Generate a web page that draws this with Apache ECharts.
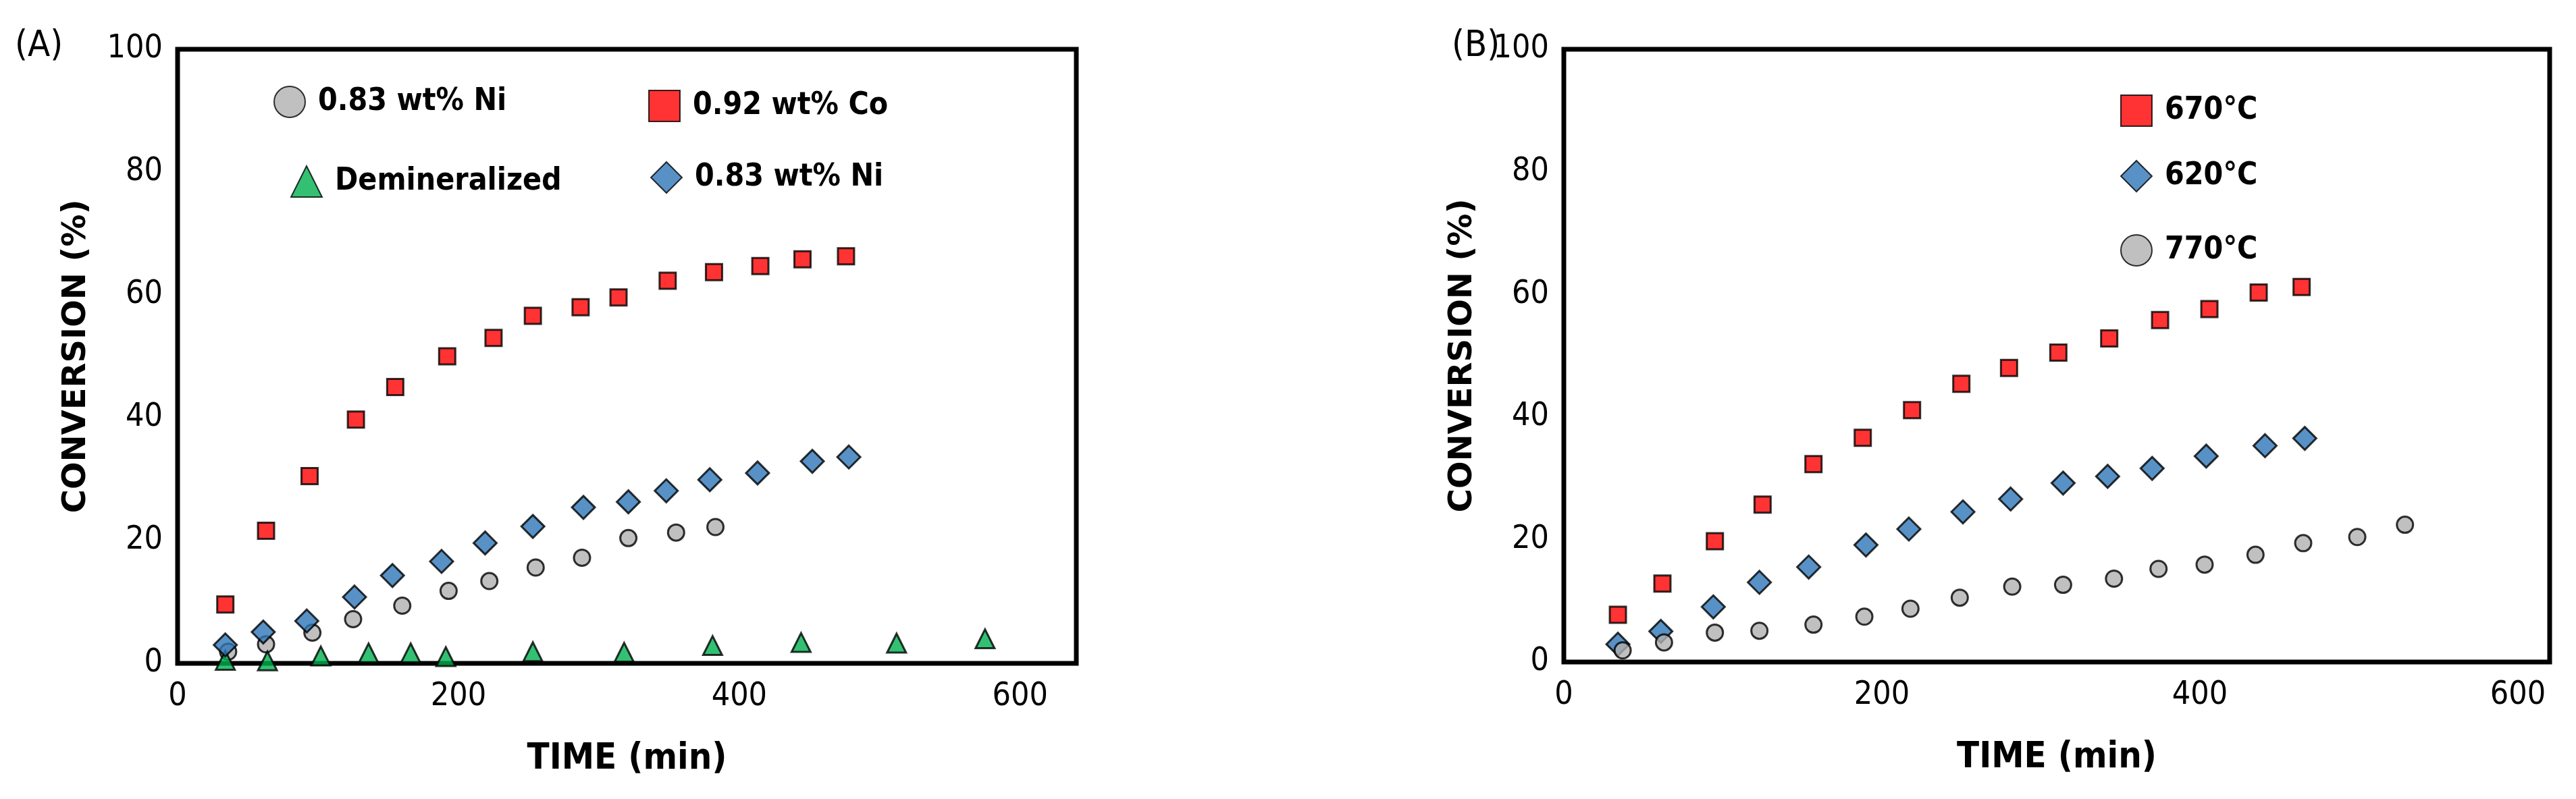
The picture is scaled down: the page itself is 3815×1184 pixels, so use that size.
<!DOCTYPE html>
<html><head><meta charset="utf-8">
<script src="https://cdn.jsdelivr.net/npm/echarts@6/dist/echarts.min.js"></script>
<style>html,body{margin:0;background:#fff}#c{width:3815px;height:1184px}</style>
</head><body><div id="c"></div>
<script>
// Panel A
const aCoX=[34,63,94,127,155,192,225,253,287,314,349,382,415,445,476];
const aCoY=[9.6,21.6,30.5,39.7,45,50,53,56.6,58,59.6,62.3,63.7,64.7,65.8,66.3];
const aNiDX=[34,61,92,126,153,188,219,253,289,321,348,379,413,452,478];
const aNiDY=[3.0,5.1,6.9,10.8,14.3,16.6,19.6,22.3,25.4,26.3,28.1,29.9,31.0,32.9,33.6];
const aNiCX=[36,63,96,125,160,193,222,255,288,321,355,383];
const aNiCY=[1.9,3.1,5.0,7.2,9.4,11.8,13.4,15.6,17.2,20.4,21.3,22.2];
const aDemX=[34,64,102,136,166,191,253,318,381,444,512,575];
const aDemY=[0.5,0.4,1.2,1.7,1.7,1.1,1.9,1.8,2.9,3.4,3.3,4.0];
// Panel B
const b670X=[34,62,95,125,157,188,219,250,280,311,343,375,406,437,464];
const b670Y=[7.7,12.8,19.7,25.7,32.3,36.6,41.1,45.4,48.0,50.5,52.8,55.8,57.6,60.3,61.2];
const b620X=[34,61,94,123,154,190,217,251,281,314,342,370,404,441,466];
const b620Y=[2.9,5.0,9.0,13.0,15.5,19.1,21.7,24.5,26.6,29.2,30.3,31.6,33.6,35.3,36.5];
const b770X=[37,63,95,123,157,189,218,249,282,314,346,374,403,435,465,499,529];
const b770Y=[1.9,3.2,4.8,5.1,6.1,7.4,8.7,10.5,12.3,12.6,13.6,15.2,15.9,17.5,19.4,20.4,22.4];
const xTicks=[0,200,400,600];
const yTicks=[0,20,40,60,80,100];

const zip=(a,b)=>a.map((v,i)=>[v,b[i]]);
const FONT='"DejaVu Sans Condensed","Liberation Sans",sans-serif';
const RED='#ff0000',BLUE='#2e75b6',GRAY='#b2b0b0',GREEN='#00b050';
const sty=c=>({color:c,borderColor:'#000',borderWidth:3});

function xa(i,max){return {type:'value',gridIndex:i,min:0,max:max,interval:200,
  axisLine:{show:false},axisTick:{show:false},splitLine:{show:false},
  axisLabel:{fontSize:48,fontFamily:FONT,color:'#000',margin:26,formatter:v=>xTicks.includes(v)?v:''},
  name:'TIME (min)',nameLocation:'middle',nameGap:115,
  nameTextStyle:{fontSize:54,fontWeight:'bold',fontFamily:FONT,color:'#000'}};}
function ya(i){return {type:'value',gridIndex:i,min:0,max:100,interval:20,
  axisLine:{show:false},axisTick:{show:false},splitLine:{show:false},
  axisLabel:{fontSize:48,fontFamily:FONT,color:'#000',margin:22,formatter:v=>yTicks.includes(v)?v:''},
  name:'CONVERSION (%)',nameLocation:'middle',nameGap:125,
  nameTextStyle:{fontSize:48,fontWeight:'bold',fontFamily:'"DejaVu Sans",sans-serif',color:'#000'}};}
function sc(name,i,data,sym,size,c){return {name:name,type:'scatter',xAxisIndex:i,yAxisIndex:i,
  data:data,symbol:sym,symbolSize:size,itemStyle:sty(c)};}
function lg(name,left,top){return {data:[name],left:left,top:top,itemWidth:46,itemHeight:46,itemGap:0,
  textStyle:{fontSize:46,fontWeight:'bold',fontFamily:FONT,color:'#000',padding:[0,0,0,14]},selectedMode:false};}

const chart=echarts.init(document.getElementById('c'));
chart.setOption({
  backgroundColor:'#fff',animation:false,
  grid:[{left:263,top:73,width:1331,height:910,show:true,borderColor:'#000',borderWidth:7},
        {left:2316,top:73,width:1460,height:908,show:true,borderColor:'#000',borderWidth:7}],
  xAxis:[xa(0,640),xa(1,620)],
  yAxis:[ya(0),ya(1)],
  legend:[lg('0.83 wt% Ni',400,122),lg('0.92 wt% Co',955,128),lg('Demineralized',425,240),lg('0.83 wt% Ni ',958,234),
          lg('670°C',3135,135),lg('620°C',3135,232),lg('770°C',3135,342)],
  graphic:[{type:'text',left:22,top:42,style:{text:'(A)',fontSize:54,fontFamily:FONT,fill:'#000'}},
           {type:'text',left:2150,top:42,style:{text:'(B)',fontSize:54,fontFamily:FONT,fill:'#000'}}],
  series:[
    sc('0.83 wt% Ni',0,zip(aNiCX,aNiCY),'circle',24,GRAY),
    sc('0.92 wt% Co',0,zip(aCoX,aCoY),'rect',24,RED),
    sc('Demineralized',0,zip(aDemX,aDemY),'triangle',28,GREEN),
    sc('0.83 wt% Ni ',0,zip(aNiDX,aNiDY),'diamond',34,BLUE),
    sc('670°C',1,zip(b670X,b670Y),'rect',24,RED),
    sc('620°C',1,zip(b620X,b620Y),'diamond',34,BLUE),
    sc('770°C',1,zip(b770X,b770Y),'circle',24,GRAY)
  ]
});
</script></body></html>
